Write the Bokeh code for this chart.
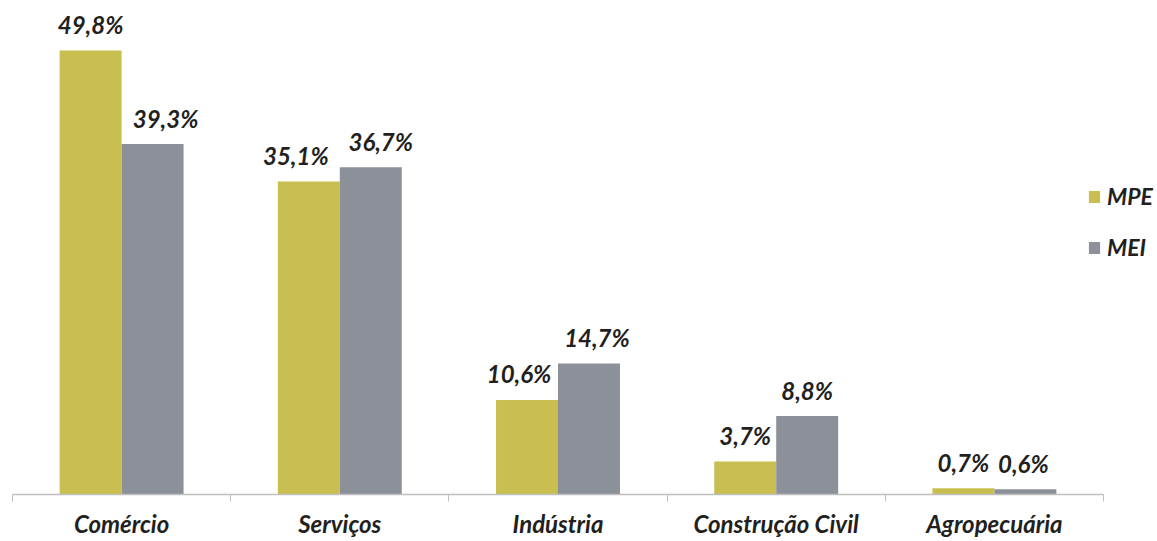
from bokeh.plotting import figure
from bokeh.models import ColumnDataSource, Range1d, FixedTicker, Legend, LegendItem, LinearAxis
from bokeh.core.properties import value
from bokeh.embed import file_html
from bokeh.resources import INLINE

categories = ["Comércio", "Serviços", "Indústria", "Construção Civil", "Agropecuária"]
mpe = [49.8, 35.1, 10.6, 3.7, 0.7]
mei = [39.3, 36.7, 14.7, 8.8, 0.6]
mpe_labels = ["49,8%", "35,1%", "10,6%", "3,7%", "0,7%"]
mei_labels = ["39,3%", "36,7%", "14,7%", "8,8%", "0,6%"]
series_names = ["MPE", "MEI"]

# horizontal nudges of the value labels (screen px), as in the reference
mpe_dx = [0, -13, -8, 0, 0]
mei_dx = [13, 10, 8, 0, -2]

C_MPE = "#C8BF50"
C_MEI = "#8C9098"
TXT = "#231F20"
FONT = "Lato"

bw = 0.284
n = len(categories)
centers = [i + 0.5 for i in range(n)]

p = figure(width=1157, height=541, output_backend="svg", toolbar_location=None,
           x_range=Range1d(0, 5.2475), y_range=Range1d(0, 55.4),
           min_border_left=12, min_border_right=0, min_border_top=0, min_border_bottom=47,
           x_axis_type=None, y_axis_type=None)
p.outline_line_color = None
p.xgrid.visible = False
p.ygrid.visible = False
p.background_fill_color = "white"

src_mpe = ColumnDataSource(dict(x=[c - bw / 2 for c in centers], top=mpe, lab=mpe_labels, dx=mpe_dx))
src_mei = ColumnDataSource(dict(x=[c + bw / 2 for c in centers], top=mei, lab=mei_labels, dx=mei_dx))

r1 = p.vbar(x="x", top="top", bottom=0, width=bw, source=src_mpe, fill_color=C_MPE, line_color=None)
r2 = p.vbar(x="x", top="top", bottom=0, width=bw, source=src_mei, fill_color=C_MEI, line_color=None)

for src in (src_mpe, src_mei):
    p.text(x="x", y="top", text="lab", source=src, text_align="center", text_baseline="alphabetic",
           x_offset="dx", y_offset=-26, text_font=value(FONT), text_font_style="bold italic",
           text_font_size="24px", text_color=TXT)

ticker = FixedTicker(ticks=centers, minor_ticks=list(range(n + 1)))
ax = LinearAxis(ticker=ticker, bounds=(0, n))
ax.major_label_overrides = {c: name for c, name in zip(centers, categories)}
ax.major_tick_line_color = None
ax.minor_tick_in = 0
ax.minor_tick_out = 7
ax.minor_tick_line_color = "#BFBFBF"
ax.axis_line_color = "#BFBFBF"
ax.axis_line_width = 1.5
ax.major_label_standoff = 7
ax.major_label_text_line_height = 1.0
ax.major_label_text_font = FONT
ax.major_label_text_font_style = "bold italic"
ax.major_label_text_font_size = "24px"
ax.major_label_text_color = TXT
p.add_layout(ax, "below")

legend = Legend(items=[LegendItem(label=series_names[0], renderers=[r1]),
                       LegendItem(label=series_names[1], renderers=[r2])],
                location=(1075, 233), orientation="vertical")
legend.glyph_width = 14
legend.glyph_height = 15
legend.label_text_font = FONT
legend.label_text_font_style = "bold italic"
legend.label_text_font_size = "23px"
legend.label_text_color = TXT
legend.label_standoff = 6
legend.spacing = 23
legend.padding = 0
legend.margin = 0
legend.border_line_color = None
legend.background_fill_alpha = 0
p.add_layout(legend, "center")

open("out.html", "w").write(file_html(p, INLINE))
